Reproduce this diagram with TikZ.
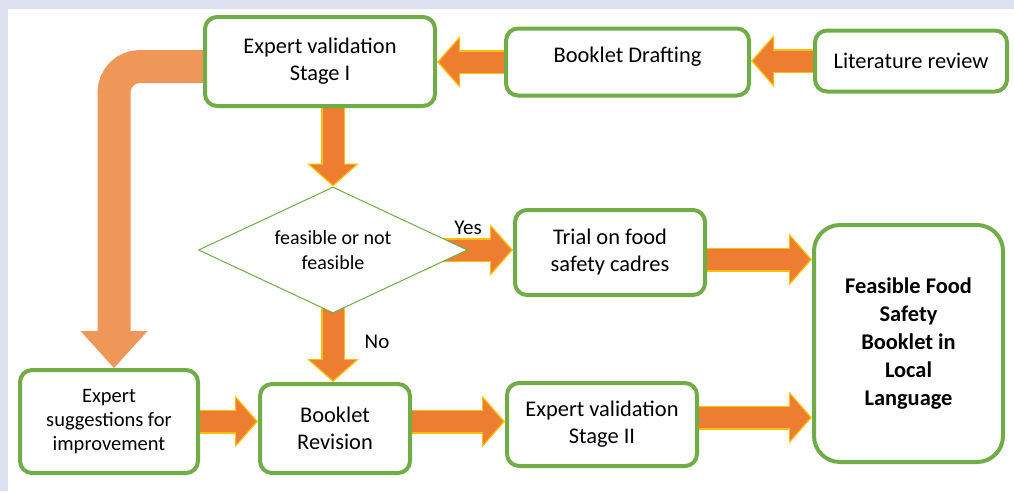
\documentclass[tikz,border=0pt]{standalone}
\usepackage{fontspec}
\setmainfont{Carlito}
\usetikzlibrary{arrows.meta}
\usetikzlibrary{shapes.geometric}
\usetikzlibrary{backgrounds}

\definecolor{boxgreen}{HTML}{70AD47}
\definecolor{arroworange}{HTML}{ED7D31}
\definecolor{arrowgold}{HTML}{FFC000}
\definecolor{loopcolor}{HTML}{EF9659}
\definecolor{pageedge}{HTML}{DDE1EF}

\begin{document}
\begin{tikzpicture}[x=1pt,y=-1pt,
   box/.style={draw=boxgreen,line width=4pt,fill=white,rounded corners=12pt,
     align=center,inner sep=2pt,font=\fontsize{22.4}{27}\selectfont},
   goldpart/.style={draw=arrowgold,line width=24pt,
     -{Triangle[length=23pt,width=52pt,line width=0pt]}},
   orangepart/.style={draw=arroworange,line width=21pt,shorten >=2pt,
     -{Triangle[length=20pt,width=46pt,line width=0pt]}},
   answer/.style={font=\fontsize{21}{25}\selectfont}]
\useasboundingbox (0,0) rectangle (1014,491);
\node[box,minimum width=230pt,minimum height=89pt] (ev1) at (320,61.5) {Expert validation\\Stage I};
\node[box,minimum width=243pt,minimum height=67pt,text depth=15pt] (draft) at (627.5,62) {Booklet Drafting};
\node[box,minimum width=192pt,minimum height=61pt] (lit) at (911,61) {Literature review};
\node[diamond,draw=boxgreen,line width=1pt,fill=white,shape aspect=2.13,
   minimum width=269pt,minimum height=126pt,inner sep=0pt,align=center,
   font=\fontsize{20}{25}\selectfont] (dia) at (333,250) {feasible or not\\feasible};
\node[box,minimum width=190pt,minimum height=85pt] (trial) at (610,252.5) {Trial on food\\safety cadres};
\node[box,rounded corners=26pt,minimum width=189pt,minimum height=237pt,
   font=\bfseries\fontsize{22.4}{28}\selectfont] (final) at (908.5,343.5)
   {Feasible Food\\Safety\\Booklet in\\Local\\Language};
\node[box,minimum width=178pt,minimum height=103pt,font=\fontsize{20.5}{24}\selectfont] (sugg) at (109,421.5)
   {Expert\\suggestions for\\improvement};
\node[box,minimum width=150pt,minimum height=89pt] (br) at (335,428.5) {Booklet\\Revision};
\node[box,minimum width=190pt,minimum height=83pt] (ev2) at (602,424.5) {Expert validation\\Stage II};
\node[answer] (yes) at (468,228) {Yes};
\node[answer] (no) at (377,342) {No};
\begin{pgfonlayer}{background}
\fill[pageedge] (0,0) rectangle (1014,491);
\fill[white] (8,9) rectangle (1014,491);
\draw[loopcolor,line width=33pt,rounded corners=26pt,
   -{Triangle[length=37pt,width=67pt,line width=0pt]}]
   ([yshift=-5pt]ev1.west) -| ([xshift=5pt]sugg.north);
\coordinate (t1) at ([yshift=-7pt]trial.east);
\coordinate (e1) at ([yshift=7pt]ev2.east);
\foreach \a/\b in {lit.west/lit.west -| draft.east, draft.west/draft.west -| ev1.east,
    dia.north |- ev1.south/dia.north, dia.center/dia.center -| trial.west,
    dia.center/dia.center |- br.north, t1/t1 -| final.west,
    sugg.east/sugg.east -| br.west, sugg.east -| br.east/sugg.east -| ev2.west,
    e1/e1 -| final.west} {
  \draw[goldpart] (\a) -- (\b);
  \draw[orangepart] (\a) -- (\b);
}
\end{pgfonlayer}
\end{tikzpicture}
\end{document}
